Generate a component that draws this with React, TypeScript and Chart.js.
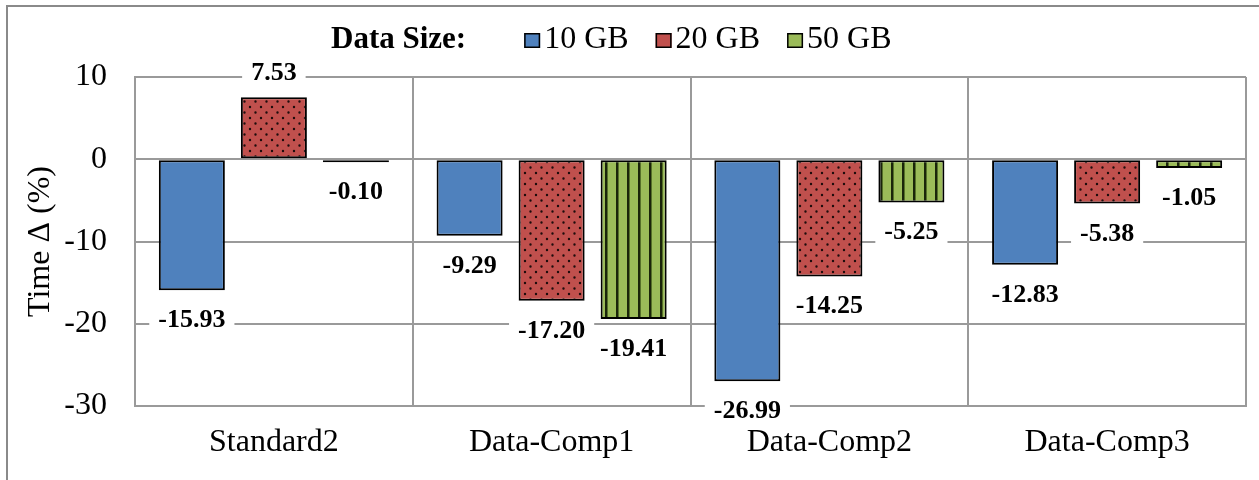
import React, { useEffect, useRef } from 'react';
import { Chart, registerables } from 'chart.js';

Chart.register(...registerables);

const categories = ['Standard2', 'Data-Comp1', 'Data-Comp2', 'Data-Comp3'];
const seriesNames = ['10 GB', '20 GB', '50 GB'];
const values10GB = [-15.93, -9.29, -26.99, -12.83];
const values20GB = [7.53, -17.2, -14.25, -5.38];
const values50GB = [-0.1, -19.41, -5.25, -1.05];
const yMin = -30;
const yMax = 10;
const yStep = 10;
const legendTitle = 'Data Size:';
const yAxisTitle = 'Time Δ (%)';

const SERIF = '"Liberation Serif", "Times New Roman", Times, serif';
const BLUE = '#4F81BD';
const RED = '#C0504D';
const GREEN = '#9BBB59';
const GRID = '#9a9a9a';

function makeDotPattern(bg: string): CanvasPattern | string {
  const c = document.createElement('canvas');
  c.width = 11;
  c.height = 11;
  const g = c.getContext('2d');
  if (!g) return bg;
  g.fillStyle = bg;
  g.fillRect(0, 0, 11, 11);
  g.fillStyle = '#1c0c0c';
  g.beginPath();
  g.arc(2.5, 2.5, 1.2, 0, Math.PI * 2);
  g.arc(8, 8, 1.2, 0, Math.PI * 2);
  g.fill();
  return g.createPattern(c, 'repeat') || bg;
}

function makeStripePattern(bg: string): CanvasPattern | string {
  const c = document.createElement('canvas');
  c.width = 11;
  c.height = 11;
  const g = c.getContext('2d');
  if (!g) return bg;
  g.fillStyle = bg;
  g.fillRect(0, 0, 11, 11);
  g.fillStyle = '#1a240a';
  g.fillRect(0, 0, 2, 11);
  g.fillStyle = '#56702a';
  g.fillRect(2, 0, 1, 11);
  return g.createPattern(c, 'repeat') || bg;
}

const legendPlugin = {
  id: 'customLegend',
  afterDraw(chart: any) {
    const ctx = chart.ctx;
    ctx.save();
    const baseY = 48;
    let x = 331;
    ctx.fillStyle = '#000';
    ctx.textBaseline = 'alphabetic';
    ctx.textAlign = 'left';
    ctx.font = `bold 31px ${SERIF}`;
    ctx.fillText(legendTitle, x, baseY);
    x += ctx.measureText(legendTitle).width + 58;
    ctx.font = `32px ${SERIF}`;
    chart.data.datasets.forEach((ds: any) => {
      ctx.fillStyle = ds.legendColor;
      ctx.fillRect(x, 33, 16, 15);
      ctx.strokeStyle = '#000';
      ctx.lineWidth = 1.5;
      ctx.strokeRect(x + 0.75, 33.75, 14.5, 13.5);
      x += 16 + 4;
      ctx.fillStyle = '#000';
      ctx.fillText(ds.label, x, baseY);
      x += ctx.measureText(ds.label).width + 27;
    });
    ctx.restore();
  },
};

const dataLabelPlugin = {
  id: 'valueLabels',
  afterDatasetsDraw(chart: any) {
    const ctx = chart.ctx;
    ctx.save();
    ctx.font = `bold 26px ${SERIF}`;
    ctx.textAlign = 'center';
    ctx.textBaseline = 'alphabetic';
    chart.data.datasets.forEach((ds: any, di: number) => {
      const meta = chart.getDatasetMeta(di);
      meta.data.forEach((el: any, i: number) => {
        const v = ds.data[i] as number;
        const text = v.toFixed(2);
        const baseline = v < 0 ? el.y + 37 : el.y - 17;
        const w = ctx.measureText(text).width;
        ctx.fillStyle = '#ffffff';
        ctx.fillRect(el.x - w / 2 - 9, baseline - 24, w + 18, 31);
        ctx.fillStyle = '#000';
        ctx.fillText(text, el.x, baseline);
      });
    });
    ctx.restore();
  },
};

export default function App() {
  const ref = useRef<HTMLCanvasElement | null>(null);

  useEffect(() => {
    const canvas = ref.current;
    if (!canvas) return;
    const fills = [BLUE, makeDotPattern(RED), makeStripePattern(GREEN)];
    const legendColors = [BLUE, RED, GREEN];
    const seriesValues = [values10GB, values20GB, values50GB];
    const chart = new Chart(canvas, {
      type: 'bar',
      data: {
        labels: categories,
        datasets: seriesNames.map((name, i) => ({
          label: name,
          data: seriesValues[i],
          backgroundColor: fills[i] as any,
          borderColor: '#000',
          borderWidth: 2,
          borderSkipped: false,
          minBarLength: 3,
          categoryPercentage: 0.886,
          barPercentage: 0.805,
          legendColor: legendColors[i],
        })) as any,
      },
      options: {
        responsive: false,
        animation: false,
        devicePixelRatio: 1,
        layout: { padding: { top: 77, right: 13, left: 0, bottom: 0 } },
        plugins: {
          legend: { display: false },
          tooltip: { enabled: false },
          title: { display: false },
        },
        scales: {
          x: {
            grid: { color: GRID, lineWidth: 2, drawTicks: false, offset: true },
            border: { color: GRID, width: 2 },
            ticks: {
              color: '#000',
              padding: 21,
              font: { family: SERIF, size: 32, lineHeight: 1 },
            },
            afterFit: (s: any) => {
              s.height = 74;
            },
          },
          y: {
            min: yMin,
            max: yMax,
            grid: { color: GRID, lineWidth: 2, drawTicks: false },
            border: { color: GRID, width: 2 },
            ticks: {
              stepSize: yStep,
              color: '#000',
              padding: 28,
              font: { family: SERIF, size: 32, lineHeight: 1 },
            },
            title: {
              display: true,
              text: yAxisTitle,
              color: '#000',
              padding: { top: 25, bottom: 0 },
              font: { family: SERIF, size: 32, lineHeight: 1 },
            },
            afterFit: (s: any) => {
              s.width = 135;
            },
          },
        },
      },
      plugins: [dataLabelPlugin, legendPlugin],
    });
    return () => chart.destroy();
  }, []);

  return (
    <div
      style={{
        position: 'absolute',
        left: 0,
        top: 0,
        width: 1259,
        height: 480,
        overflow: 'hidden',
        background: '#fff',
      }}
    >
      <div
        style={{
          position: 'absolute',
          left: 6,
          top: 5,
          width: 1400,
          height: 700,
          border: '2px solid #8a8a8a',
          boxSizing: 'border-box',
        }}
      />
      <canvas
        ref={ref}
        width={1259}
        height={480}
        style={{ position: 'absolute', left: 0, top: 0, display: 'block' }}
      />
    </div>
  );
}
